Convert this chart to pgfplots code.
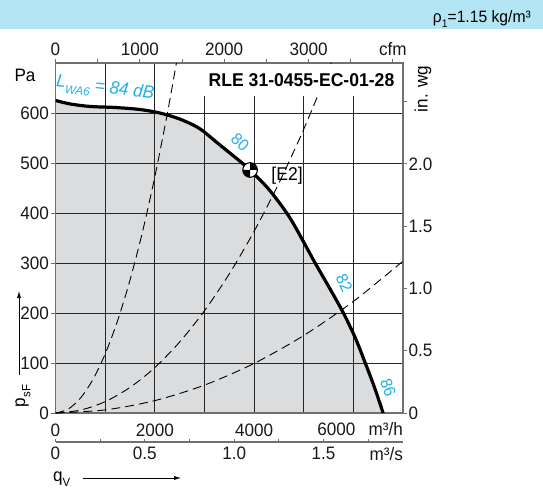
\documentclass[border=0pt]{standalone}
\usepackage{fontspec}
\setmainfont{Liberation Sans}[FakeStretch=0.95]
\usepackage{pgfplots}
\usepackage{pgfplotstable}
\pgfplotsset{compat=1.18}
\usetikzlibrary{arrows.meta}

\definecolor{band}{RGB}{180,229,245}
\definecolor{shade}{RGB}{219,220,222}
\definecolor{dbcyan}{RGB}{35,175,230}
\definecolor{frame}{RGB}{112,112,112}

% operating point marker: circle with two black quadrants
\pgfdeclareplotmark{quadrant}{%
  \pgfpathcircle{\pgfpointorigin}{\pgfplotmarksize}%
  \pgfsetfillcolor{white}\pgfusepath{fill}%
  \pgfpathmoveto{\pgfpointorigin}%
  \pgfpathlineto{\pgfpoint{\pgfplotmarksize}{0pt}}%
  \pgfpatharc{0}{90}{\pgfplotmarksize}%
  \pgfpathclose
  \pgfpathmoveto{\pgfpointorigin}%
  \pgfpathlineto{\pgfpoint{-\pgfplotmarksize}{0pt}}%
  \pgfpatharc{180}{270}{\pgfplotmarksize}%
  \pgfpathclose
  \pgfsetfillcolor{black}\pgfusepath{fill}%
  \pgfpathcircle{\pgfpointorigin}{\pgfplotmarksize}%
  \pgfusepath{stroke}%
}

% fan characteristic, q_V in m3/h, p_sF in Pa
\pgfplotstableread{
q p
0 625
300 618
700 613
1200 611
1700 607
2100 600
2500 588
2900 569
3300 537
3760 500
3920 486
4300 447
4730 389
5230 300
5520 250
5800 200
6040 150
6240 100
6430 50
6600 0
}\fancurve

% system curves
\pgfplotstableread{
q p
0 0
250 7.4
500 29.5
750 66.4
1000 118
1250 184.4
1500 265.5
1750 361.4
2000 472
2250 597.4
2435 699.7
}\sysA

\pgfplotstableread{
q p
0 0
500 5.7
1000 22.7
1500 51.1
2000 90.8
2500 141.9
3000 204.3
3500 278.1
4000 363.2
4500 459.7
5000 567.5
5553 700
}\sysB

\pgfplotstableread{
q p
0 0
1000 6.2
2000 24.8
3000 55.8
4000 99.2
5000 155
6000 223.2
7000 303.8
}\sysC

\newcommand{\lbl}{\fontsize{18}{20}\selectfont}

\pgfplotsset{
  /pgf/number format/assume math mode=true,
  every tick label/.append style={font=\lbl, text=black!90},
  frameaxis/.style={
    at={(55.5pt,75pt)}, anchor=south west,
    scale only axis, width=347.5pt, height=350pt,
    xmin=0, xmax=7000, ymin=0, ymax=700,
  },
}

\begin{document}
\begin{tikzpicture}
\fill[white] (0,0) rectangle (543pt,488pt);
\fill[band] (0,459pt) rectangle (543pt,488pt);
\node[anchor=base east, inner sep=0pt, font=\fontsize{16.5}{18}\selectfont]
  at (531pt,465pt) {ρ\raisebox{-0.3em}{\fontsize{11}{12}\selectfont 1}=1.15 kg/m³};

% shaded working range below the characteristic
\begin{axis}[frameaxis, hide axis]
\addplot[draw=none, fill=shade, smooth, tension=0.5]
  table[x=q, y=p] {\fancurve} \closedcycle;
\end{axis}

% main diagram: pressure over volume flow
\begin{axis}[frameaxis,
  clip mode=individual,
  xtick={0,1000,...,7000},
  xticklabels={0,,2000,,4000,,,},
  ytick={0,100,...,600},
  yticklabels={0,100,200,300,400,500,600},
  grid=major,
  major grid style={black!85, line width=0.75pt},
  axis line style={frame, line width=1.3pt},
  xtick pos=bottom, ytick pos=left,
  tick align=outside,
  xtick style={draw=none},
  ytick style={frame, line width=0.9pt},
  major tick length=5pt,
  xticklabel style={anchor=north, inner sep=0pt, yshift=-6pt},
  yticklabel style={anchor=east, inner sep=0pt, xshift=-1.5pt},
]
\addplot[black, line width=0.9pt, dash pattern=on 9pt off 5pt, smooth] table[x=q, y=p] {\sysA};
\addplot[black, line width=0.9pt, dash pattern=on 9pt off 5pt, smooth] table[x=q, y=p] {\sysB};
\addplot[black, line width=0.9pt, dash pattern=on 9pt off 5pt, smooth] table[x=q, y=p] {\sysC};

\addplot[black, line width=3.2pt, smooth, tension=0.5] table[x=q, y=p] {\fancurve};

\addplot[only marks, mark=quadrant, mark size=7.3pt, mark options={line width=1.1pt, draw=black}]
  coordinates {(3920,486)};
\node[font=\fontsize{18.5}{20}\selectfont, inner sep=0pt] at (axis cs:3920,486) [xshift=37pt, yshift=-6pt] {[E2]};

% type designation
\fill[white] (axis cs:2873,633) rectangle (axis cs:6990,697);
\node[font=\fontsize{18.5}{20}\selectfont\bfseries, inner sep=0pt] at (axis cs:4956,665) {RLE 31-0455-EC-01-28};

% sound power levels
\node[text=dbcyan, font=\fontsize{18}{20}\selectfont\itshape, rotate=-7, inner sep=0pt]
  at (axis cs:1000,648) {L\raisebox{-0.3em}{\fontsize{12}{13}\selectfont WA6} = 84 dB};
\node[text=dbcyan, font=\fontsize{16.5}{18}\selectfont, rotate=-42, inner sep=0pt] at (axis cs:3720,542) {80};
\node[text=dbcyan, font=\fontsize{16.5}{18}\selectfont, rotate=-65, inner sep=0pt] at (axis cs:5817,260) {82};
\node[text=dbcyan, font=\fontsize{16.5}{18}\selectfont, rotate=-70, inner sep=0pt] at (axis cs:6704,50) {86};

% last flow label set left of its grid line to leave room for the unit
\node[anchor=base, inner sep=0pt, font=\lbl, text=black!90] at (axis cs:6000,0) [xshift=-17pt, yshift=-22.8pt] {6000};
\node[anchor=base east, inner sep=0pt, font=\lbl, text=black!90] at (axis cs:7000,0) [yshift=-22.8pt] {m³/h};
\end{axis}

% top scale in cfm
\begin{axis}[frameaxis,
  xmin=0, xmax=4120.04, ymin=0, ymax=1,
  axis x line*=top, axis y line=none,
  axis line style={draw=none},
  xtick={0,1000,2000,3000,4000},
  xticklabels={0,1000,2000,3000,cfm},
  minor xtick={500,1500,2500,3500},
  tick align=outside,
  major tick length=4pt, minor tick length=4pt,
  tick style={frame, line width=0.9pt},
  xticklabel style={anchor=south, inner sep=0pt, yshift=3.5pt},
]
\addplot[draw=none] coordinates {(0,0)};
\end{axis}

% right scale in inches of water gauge
\begin{axis}[frameaxis,
  xmin=0, xmax=1, ymin=0, ymax=2.81025,
  axis y line*=right, axis x line=none,
  axis line style={draw=none},
  ytick={0,0.5,1,1.5,2,2.5},
  yticklabels={0,0.5,1.0,1.5,2.0,{}},
  tick align=outside,
  major tick length=4pt,
  tick style={frame, line width=0.9pt},
  yticklabel style={anchor=west, inner sep=0pt, xshift=1.5pt},
]
\addplot[draw=none] coordinates {(0,0)};
\end{axis}

% lower scale in m3/s
\begin{axis}[
  at={(55.5pt,46pt)}, anchor=south west,
  scale only axis, width=347.5pt, height=2pt,
  clip=false,
  xmin=0, xmax=1.94444, ymin=0, ymax=1,
  axis x line*=bottom, axis y line=none,
  axis line style={frame, line width=1.3pt},
  xtick={0,0.5,1,1.5},
  xticklabels={0,0.5,1.0,1.5},
  minor xtick={0.25,0.75,1.25,1.75},
  tick align=inside,
  major tick length=3.5pt, minor tick length=3.5pt,
  tick style={frame, line width=0.9pt},
  xticklabel style={anchor=north, inner sep=0pt, yshift=-4.5pt},
]
\addplot[draw=none] coordinates {(0,0)};
\node[anchor=base east, inner sep=0pt, font=\lbl, text=black!90] at (axis cs:1.94444,0) [yshift=-18.8pt] {m³/s};
\end{axis}

% axis descriptions
\node[font=\lbl, inner sep=0pt] at (25pt,413pt) {Pa};
\node[font=\lbl, inner sep=0pt, rotate=90] at (423pt,399pt) {in. wg};
\node[font=\lbl, inner sep=0pt, rotate=90] at (23pt,92pt) {p\raisebox{-0.3em}{\fontsize{12}{13}\selectfont sF}};
\draw[-{Latex[length=7pt,width=4pt]}, line width=0.7pt] (19pt,113pt) -- (19pt,197pt);
\node[font=\lbl, inner sep=0pt, anchor=base west] at (53pt,7pt) {q\raisebox{-0.3em}{\fontsize{12}{13}\selectfont V}};
\draw[-{Latex[length=7pt,width=4pt]}, line width=0.7pt] (83pt,10pt) -- (181pt,10pt);

\pgfresetboundingbox
\path[use as bounding box] (0,0) rectangle (543pt,488pt);
\end{tikzpicture}
\end{document}
